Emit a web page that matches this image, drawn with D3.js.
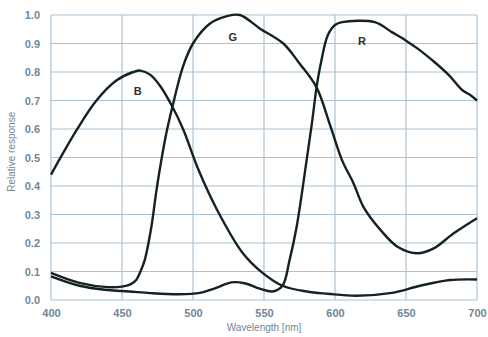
<!DOCTYPE html>
<html>
<head>
<meta charset="utf-8">
<script src="https://cdn.jsdelivr.net/npm/d3@7"></script>
<style>
    body { margin: 0; background: #fff; }
    svg { display: block; }
    .tick text { font-family: "Liberation Sans", Arial, sans-serif; font-size: 11px; font-weight: bold; fill: #6f8799; }
</style>
</head>
<body>
<div id="chart"></div>
<script>
// Wavelength [nm] / relative response
const bWave = [400, 418, 432, 446, 458, 463, 470, 477, 485.5, 493, 504, 517, 535, 549, 563, 580, 595, 615, 640, 660, 681, 700];
const bResp = [0.44, 0.596, 0.70, 0.77, 0.80, 0.805, 0.79, 0.75, 0.678, 0.60, 0.455, 0.316, 0.165, 0.095, 0.05, 0.03, 0.022, 0.015, 0.025, 0.05, 0.07, 0.072];

const gWave = [400, 420, 440, 450, 456, 460, 463, 466, 470.7, 474, 477, 481, 485.5, 493, 500, 512, 524, 533, 547, 563.6, 575, 587, 596.5, 605, 613, 620, 632, 644, 658, 669.5, 683.6, 700];
const gResp = [0.095, 0.06, 0.045, 0.047, 0.055, 0.07, 0.10, 0.14, 0.257, 0.375, 0.47, 0.58, 0.678, 0.82, 0.90, 0.97, 0.996, 1.0, 0.953, 0.90, 0.83, 0.746, 0.614, 0.49, 0.41, 0.327, 0.246, 0.187, 0.164, 0.181, 0.234, 0.287];

const rWave = [400, 420, 440, 455, 470, 490, 505, 515, 527, 537, 547, 556, 563, 568, 573, 580, 584, 587, 590, 595, 600, 605, 628, 640, 650, 658, 670, 680, 690, 695, 700];
const rResp = [0.083, 0.05, 0.035, 0.03, 0.024, 0.02, 0.025, 0.04, 0.062, 0.058, 0.04, 0.03, 0.05, 0.14, 0.257, 0.49, 0.63, 0.746, 0.83, 0.93, 0.965, 0.975, 0.975, 0.94, 0.91, 0.883, 0.835, 0.79, 0.735, 0.72, 0.70];

const curveNames = ['B', 'G', 'R'];
const labelAt = [[461, 0.72], [528, 0.91], [619, 0.895]];

const xTicks = [400, 450, 500, 550, 600, 650, 700];
const yTicks = [0, 0.1, 0.2, 0.3, 0.4, 0.5, 0.6, 0.7, 0.8, 0.9, 1.0];

const width = 488, height = 337;
const margin = { top: 15, right: 11, bottom: 37, left: 51 };

const svg = d3.select('#chart').append('svg')
    .attr('width', width)
    .attr('height', height);

const x = d3.scaleLinear()
    .domain([400, 700])
    .range([margin.left, width - margin.right]);

const y = d3.scaleLinear()
    .domain([0, 1])
    .range([height - margin.bottom, margin.top]);

// grid
svg.append('g')
    .attr('stroke', '#a9c2d3')
    .attr('stroke-width', 1.2)
    .selectAll('line')
    .data(xTicks)
    .join('line')
    .attr('x1', d => x(d)).attr('x2', d => x(d))
    .attr('y1', y(0)).attr('y2', y(1));

svg.append('g')
    .attr('stroke', '#a9c2d3')
    .attr('stroke-width', 1.2)
    .selectAll('line')
    .data(yTicks)
    .join('line')
    .attr('x1', x(400)).attr('x2', x(700))
    .attr('y1', d => y(d)).attr('y2', d => y(d));

// axes (labels only)
const xAxis = svg.append('g')
    .attr('transform', 'translate(0,' + (y(0) + 3) + ')')
    .call(d3.axisBottom(x).tickValues(xTicks).tickFormat(d3.format('d')).tickSize(0).tickPadding(6));
xAxis.select('.domain').remove();

const yAxis = svg.append('g')
    .attr('transform', 'translate(' + (x(400) - 3) + ',0)')
    .call(d3.axisLeft(y).tickValues(yTicks).tickFormat(d3.format('.1f')).tickSize(0).tickPadding(8));
yAxis.select('.domain').remove();

svg.append('text')
    .attr('x', (x(400) + x(700)) / 2)
    .attr('y', 331)
    .attr('text-anchor', 'middle')
    .attr('font-family', '"Liberation Sans", Arial, sans-serif')
    .attr('font-size', 10)
    .attr('fill', '#6f8799')
    .text('Wavelength [nm]');

svg.append('text')
    .attr('transform', 'translate(15,' + y(0.52) + ') rotate(-90)')
    .attr('text-anchor', 'middle')
    .attr('font-family', '"Liberation Sans", Arial, sans-serif')
    .attr('font-size', 10)
    .attr('fill', '#6f8799')
    .text('Relative response');

// curves
const series = [
    bWave.map((w, i) => [w, bResp[i]]),
    gWave.map((w, i) => [w, gResp[i]]),
    rWave.map((w, i) => [w, rResp[i]])
];

const line = d3.line()
    .x(d => x(d[0]))
    .y(d => y(d[1]))
    .curve(d3.curveCatmullRom.alpha(0.5));

svg.append('g')
    .selectAll('path')
    .data(series)
    .join('path')
    .attr('d', line)
    .attr('fill', 'none')
    .attr('stroke', '#152222')
    .attr('stroke-width', 2.4)
    .attr('stroke-linejoin', 'round');

svg.append('g')
    .selectAll('text')
    .data(curveNames)
    .join('text')
    .attr('x', (d, i) => x(labelAt[i][0]))
    .attr('y', (d, i) => y(labelAt[i][1]))
    .attr('text-anchor', 'middle')
    .attr('font-family', '"Liberation Sans", Arial, sans-serif')
    .attr('font-size', 11)
    .attr('font-weight', 'bold')
    .attr('fill', '#2b2f33')
    .text(d => d);
</script>
</body>
</html>
